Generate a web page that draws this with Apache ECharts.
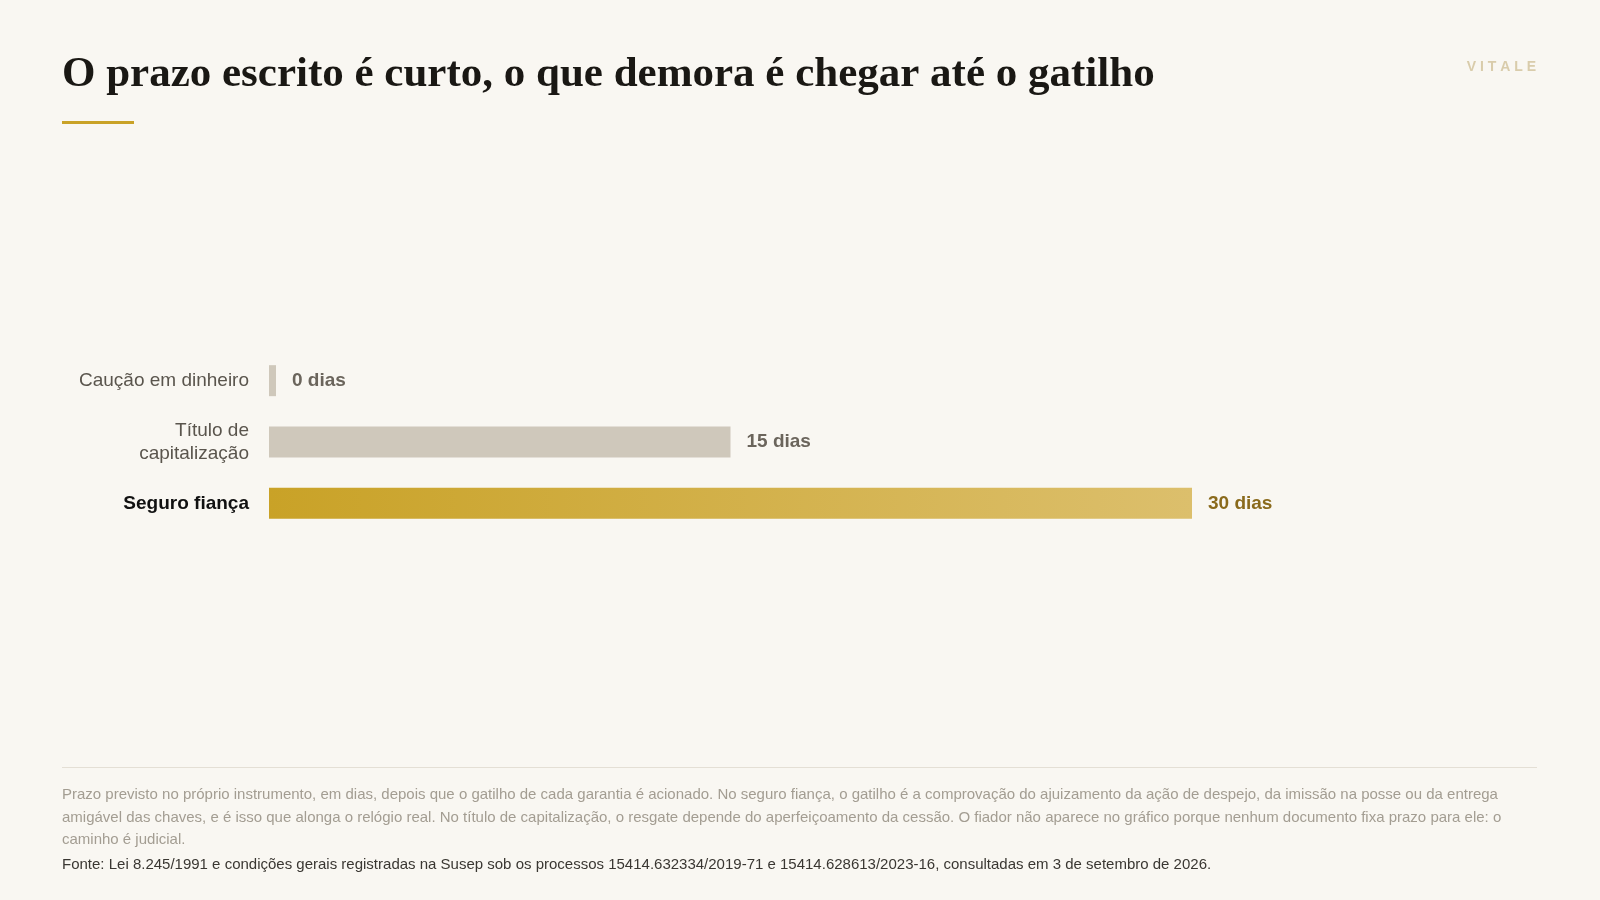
<!DOCTYPE html>
<html><head><meta charset="utf-8">
<script src="https://cdn.jsdelivr.net/npm/echarts@6/dist/echarts.min.js"></script>
<style>html,body{margin:0;padding:0;background:#f9f7f2}#c{width:1600px;height:900px}</style>
</head><body><div id="c"></div>
<script>
const categories = ['Caução em dinheiro', 'Título de\ncapitalização', 'Seguro fiança'];
const values = [0, 15, 30];
const valueLabels = ['0 dias', '15 dias', '30 dias'];
const highlight = [false, false, true];

const chart = echarts.init(document.getElementById('c'));
const sans = '"Liberation Sans", Arial, sans-serif';
chart.setOption({
  backgroundColor: '#f9f7f2',
  animation: false,
  grid: {left: 269, right: 408, top: 350, bottom: 366},
  xAxis: {type: 'value', min: 0, max: 30, show: false},
  yAxis: {
    type: 'category', data: categories, inverse: true,
    axisLine: {show: false}, axisTick: {show: false},
    axisLabel: {
      margin: 20, fontFamily: sans, fontSize: 19, color: '#5a554d', lineHeight: 23, align: 'right',
      formatter: (v, i) => highlight[i] ? '{b|' + v + '}' : v,
      rich: {b: {fontWeight: 'bold', color: '#111', fontSize: 19, fontFamily: sans}}
    }
  },
  series: [{
    type: 'bar', barWidth: 31, barMinHeight: 7,
    data: values.map((v, i) => ({
      value: v,
      itemStyle: {color: highlight[i] ? new echarts.graphic.LinearGradient(0, 0, 1, 0, [{offset: 0, color: '#c9a227'}, {offset: 1, color: '#dcbf6c'}]) : '#cfc8bb'},
      label: {color: highlight[i] ? '#8a6a1c' : '#6b655c'}
    })),
    label: {show: true, position: 'right', distance: 16, fontFamily: sans, fontSize: 19, fontWeight: 'bold',
      formatter: p => valueLabels[p.dataIndex]}
  }],
  graphic: [
    {type: 'text', x: 62, y: 75, style: {text: 'O prazo escrito é curto, o que demora é chegar até o gatilho', font: 'bold 43px Georgia, "Liberation Serif", serif', fill: '#1a1814', verticalAlign: 'middle'}},
    {type: 'rect', shape: {x: 62, y: 121, width: 72, height: 3}, style: {fill: '#c9a227'}},
    {type: 'text', x: 1536, y: 67, style: {text: 'V I T A L E', font: 'bold 14px ' + sans, fill: '#d9ccab', align: 'right', verticalAlign: 'middle'}},
    {type: 'rect', shape: {x: 62, y: 767, width: 1475, height: 1}, style: {fill: '#e4dfd5'}},
    {type: 'text', x: 62, y: 784, style: {text: 'Prazo previsto no próprio instrumento, em dias, depois que o gatilho de cada garantia é acionado. No seguro fiança, o gatilho é a comprovação do ajuizamento da ação de despejo, da imissão na posse ou da entrega\namigável das chaves, e é isso que alonga o relógio real. No título de capitalização, o resgate depende do aperfeiçoamento da cessão. O fiador não aparece no gráfico porque nenhum documento fixa prazo para ele: o\ncaminho é judicial.', font: '15px ' + sans, fill: '#a39d92', lineHeight: 22.4}},
    {type: 'text', x: 62, y: 865, style: {text: 'Fonte: Lei 8.245/1991 e condições gerais registradas na Susep sob os processos 15414.632334/2019-71 e 15414.628613/2023-16, consultadas em 3 de setembro de 2026.', font: '15px ' + sans, fill: '#3a3732', verticalAlign: 'middle'}}
  ]
});
</script></body></html>
